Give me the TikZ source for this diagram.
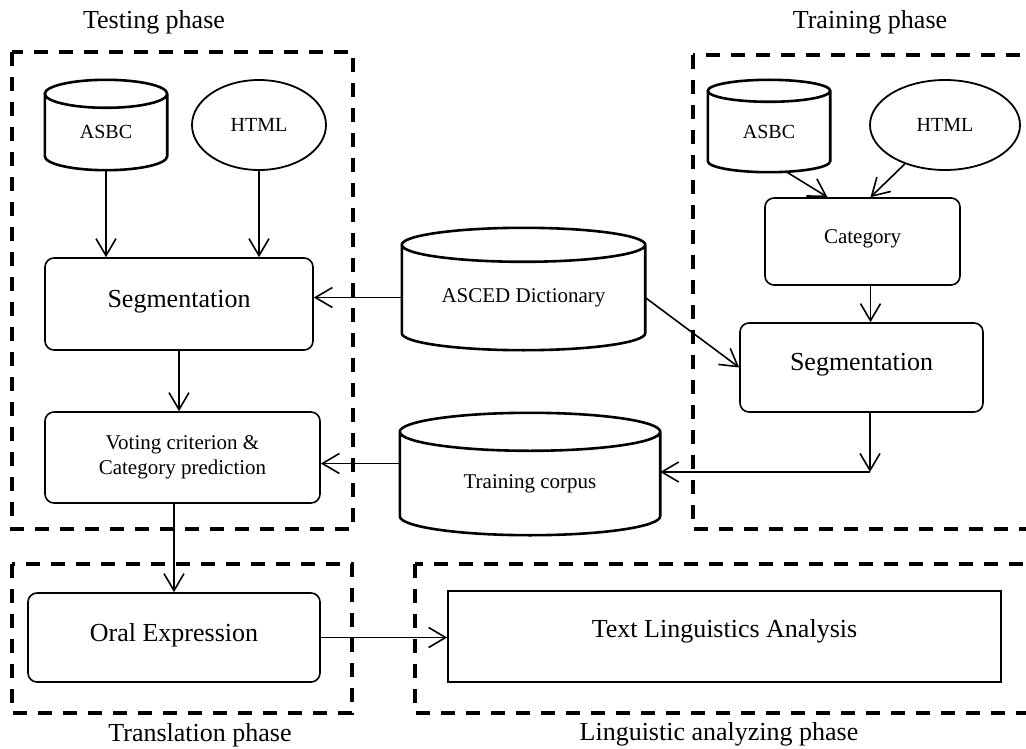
\documentclass[tikz,border=0pt]{standalone}
\usepackage{fontspec}
\setmainfont{Liberation Serif}
\usetikzlibrary{arrows.meta,shapes.geometric,calc}

\newcommand{\fs}[1]{\fontsize{#1}{#1}\selectfont}

\tikzset{
  x=1pt, y=-1pt,
  phase/.style={draw, line width=4pt, dash pattern=on 14pt off 11pt},
  phasetitle/.style={font=\fs{26}, inner sep=0pt},
  proc/.style={draw, line width=1.6pt, rounded corners=9pt, inner sep=0pt, align=center},
  plain/.style={draw, line width=1.6pt, inner sep=0pt, align=center},
  db/.style={inner sep=0pt, align=center},
  cyl/.style={line width=2.6pt},
  src/.style={draw, ellipse, line width=1.8pt, inner sep=0pt, font=\fs{20}},
  flow/.style={line width=1.6pt, -{Straight Barb[length=17pt, width=20pt, line width=1.6pt]}},
}

\begin{document}
\begin{tikzpicture}
\useasboundingbox (0,0) rectangle (1026,749);
\clip (0,0) rectangle (1026,749);

% phase frames
\draw[phase] (12,52) rectangle (353,529);
\draw[phase] (693,55) rectangle (1045,529);
\draw[phase] (12,564) rectangle (352,713);
\draw[phase] (415,564) rectangle (1045,713);

\node[phasetitle] (ttest)  at (154,22)  {Testing phase};
\node[phasetitle] (ttrain) at (870,22)  {Training phase};
\node[phasetitle] (ttrans) at (200,735) {Translation phase};
\node[phasetitle] (tling)  at (719,734) {Linguistic analyzing phase};

% testing phase
\node[db, minimum width=122pt, minimum height=76pt, font=\fs{20}] (asbcT) at (106,132) {ASBC};
\node[src, minimum width=134pt, minimum height=90pt] (htmlT) at (259,125) {HTML};
\node[proc, minimum width=268pt, minimum height=92pt, font=\fs{26}, text depth=11pt] (seg1) at (179,304) {Segmentation};
\node[proc, minimum width=275pt, minimum height=91pt, font=\fs{21}] (vote) at (182.5,457.5)
  {Voting criterion \&\\[4pt]Category prediction};

% shared stores
\node[db, minimum width=243pt, minimum height=105pt, font=\fs{21}] (dict) at (523.5,297.5) {ASCED Dictionary};
\node[db, minimum width=260pt, minimum height=103pt, font=\fs{21}] (corpus) at (530,483.5) {Training corpus};

% training phase
\node[db, minimum width=122pt, minimum height=81pt, font=\fs{20}] (asbcR) at (769,131.5) {ASBC};
\node[src, minimum width=150pt, minimum height=90pt] (htmlR) at (945,125) {HTML};
\node[proc, minimum width=195pt, minimum height=87pt, font=\fs{21}, text depth=9pt] (cat) at (862.5,241.5) {Category};
\node[proc, minimum width=243pt, minimum height=89pt, font=\fs{26}, text depth=11pt] (seg2) at (861.5,367.5) {Segmentation};

% translation and analysis
\node[proc, minimum width=292pt, minimum height=89pt, font=\fs{26}, text depth=11pt] (oral) at (174,637.5) {Oral Expression};
\node[plain, minimum width=553pt, minimum height=91pt, font=\fs{26}, text depth=17pt] (tla) at (724.5,636.5) {Text Linguistics Analysis};

% cylinder outlines around the store nodes
\foreach \c/\ry in {asbcT/14, asbcR/11, dict/17, corpus/19} {
  \draw[cyl] let \p1=(\c.north west), \p2=(\c.south east), \n1={(\x2-\x1)/2} in
    (\c.north) ellipse [x radius=\n1, y radius=\ry pt]
    (\x1,\y1) -- (\x1,\y2+\ry pt)
      arc [start angle=180, end angle=360, x radius=\n1, y radius=\ry pt]
      -- (\x2,\y1);
}

% connectors
\draw[flow] (asbcT.south) -- (asbcT.south |- seg1.north);
\draw[flow] (htmlT.south) -- (htmlT.south |- seg1.north);
\draw[flow] (seg1.south) -- (seg1.south |- vote.north);
\draw[flow] (oral.north |- vote.south) -- (oral.north);
\draw[flow] (oral.east) -- (oral.east -| tla.west);

\draw[flow] (dict.west) -- (dict.west -| seg1.east);
\draw[flow] (dict.east) -- (seg2.west);

\draw[flow] ([xshift=18pt]asbcR.south) -- ([xshift=-35pt]cat.north);
\draw[flow] (htmlR) -- ([xshift=8pt]cat.north);
\draw[flow] ([xshift=8pt]cat.south) -- ([xshift=8pt]cat.south |- seg2.north);

\coordinate (turn) at (870,472);
\draw[flow] (seg2.south -| turn) -- (turn);
\draw[flow] (turn) -- (turn -| corpus.east);
\draw[flow] ([yshift=20pt]corpus.west) -- ([yshift=20pt]corpus.west -| vote.east);
\end{tikzpicture}
\end{document}
